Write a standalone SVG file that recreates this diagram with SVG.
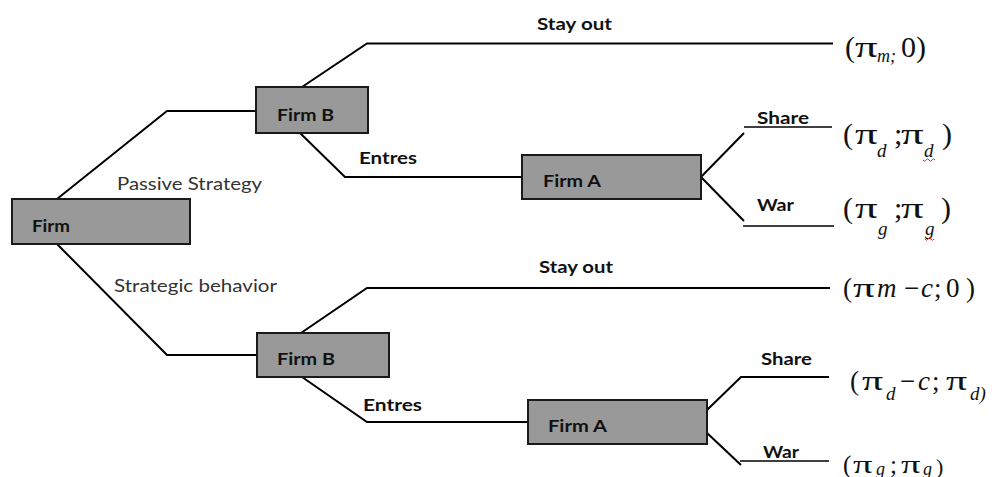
<svg xmlns="http://www.w3.org/2000/svg" width="1002" height="477" viewBox="0 0 1002 477">
<style>
.box{fill:#999999;stroke:#1a1a1a;stroke-width:2}
.ln{fill:none;stroke:#000;stroke-width:2}
.ln2{fill:none;stroke:#000;stroke-width:1.6}
.b{font-family:Lato,"Liberation Sans",sans-serif;font-weight:bold;font-size:17px;fill:#111}
.r{font-family:Lato,"Liberation Sans",sans-serif;font-size:18px;fill:#333}
.m{font-family:"Liberation Serif","Times New Roman",serif;fill:#111}
.i{font-style:italic}
.sq{fill:none;stroke:#e02020;stroke-width:1}
</style>
<rect width="1002" height="477" fill="#fff"/>
<g id="connectors">
<path class="ln" d="M57,199 L167,111 L256,111"/>
<path class="ln" d="M57,244 L167,355 L257,355"/>
<path class="ln" d="M302,87 L367,43.5 L833,43.5"/>
<path class="ln" d="M300,133 L345,177 L522,177"/>
<path class="ln" d="M701,177 L744,133"/>
<path class="ln2" d="M744,127 L832,127"/>
<path class="ln" d="M701,177 L744,221"/>
<path class="ln2" d="M743,226 L834,226"/>
<path class="ln" d="M301,333 L367,288 L830,288"/>
<path class="ln" d="M302,377 L367,422 L528,422"/>
<path class="ln" d="M707,410 L741,377 L829,377"/>
<path class="ln" d="M707,433 L741,465"/>
<path class="ln2" d="M740,461 L829,461"/>
</g>
<g id="firm"><rect class="box" x="12" y="199" width="178" height="45"/><text class="b" x="32" y="232" textLength="38" lengthAdjust="spacingAndGlyphs">Firm</text></g>
<g id="firmB1"><rect class="box" x="256" y="87" width="112" height="46"/><text class="b" x="277" y="121" textLength="57" lengthAdjust="spacingAndGlyphs">Firm B</text></g>
<g id="firmB2"><rect class="box" x="257" y="333" width="132" height="44"/><text class="b" x="277" y="365" textLength="58" lengthAdjust="spacingAndGlyphs">Firm B</text></g>
<g id="firmA1"><rect class="box" x="522" y="155" width="179" height="44"/><text class="b" x="543" y="187" textLength="58" lengthAdjust="spacingAndGlyphs">Firm A</text></g>
<g id="firmA2"><rect class="box" x="528" y="400" width="179" height="44"/><text class="b" x="548" y="432" textLength="59" lengthAdjust="spacingAndGlyphs">Firm A</text></g>
<g id="labels">
<text class="r" x="117" y="190" textLength="145" lengthAdjust="spacingAndGlyphs">Passive Strategy</text>
<text class="r" x="114" y="292" textLength="163" lengthAdjust="spacingAndGlyphs">Strategic behavior</text>
<text class="b" x="537" y="30" textLength="75" lengthAdjust="spacingAndGlyphs">Stay out</text>
<text class="b" x="539" y="273" textLength="74" lengthAdjust="spacingAndGlyphs">Stay out</text>
<text class="b" x="359" y="164" textLength="58" lengthAdjust="spacingAndGlyphs">Entres</text>
<text class="b" x="363" y="411" textLength="59" lengthAdjust="spacingAndGlyphs">Entres</text>
<text class="b" x="757" y="124" textLength="52" lengthAdjust="spacingAndGlyphs">Share</text>
<text class="b" x="757" y="211" textLength="37" lengthAdjust="spacingAndGlyphs">War</text>
<text class="b" x="761" y="365" textLength="51" lengthAdjust="spacingAndGlyphs">Share</text>
<text class="b" x="763" y="458" textLength="36" lengthAdjust="spacingAndGlyphs">War</text>
</g>
<g id="payoffs">
<text class="m" font-size="30" y="57"><tspan x="845">(</tspan><tspan x="877" y="62" font-size="18" class="i">m;</tspan><tspan x="901" y="57">0</tspan><tspan x="916">)</tspan></text>
<text class="m" font-size="29" transform="translate(855,57) scale(1.55,1)">π</text>
<text class="m" font-size="30" y="144"><tspan x="843">(</tspan><tspan x="877" y="157" font-size="19" class="i">d</tspan><tspan x="894" y="144">;</tspan><tspan x="924" y="157" font-size="19" class="i">d</tspan><tspan x="942" y="144">)</tspan></text>
<text class="m" font-size="29" transform="translate(855,144) scale(1.55,1)">π</text>
<text class="m" font-size="29" transform="translate(901,144) scale(1.55,1)">π</text>
<text class="m" font-size="30" y="218"><tspan x="843">(</tspan><tspan x="878" y="235" font-size="19" class="i">g</tspan><tspan x="894" y="218">;</tspan><tspan x="925" y="235" font-size="19" class="i">g</tspan><tspan x="941" y="218">)</tspan></text>
<text class="m" font-size="29" transform="translate(855,218) scale(1.55,1)">π</text>
<text class="m" font-size="29" transform="translate(901,218) scale(1.55,1)">π</text>
<text class="m" font-size="27" y="297"><tspan x="843">(</tspan><tspan x="877" class="i">m</tspan><tspan x="904">−</tspan><tspan x="921" class="i">c</tspan><tspan x="934">;</tspan><tspan x="946">0</tspan><tspan x="966">)</tspan></text>
<text class="m" font-size="27" transform="translate(853,297) scale(1.6,1)">π</text>
<text class="m" font-size="27" y="390"><tspan x="850">(</tspan><tspan x="886" y="400" font-size="19" class="i">d</tspan><tspan x="900" y="390">−</tspan><tspan x="918" class="i">c</tspan><tspan x="932">;</tspan><tspan x="970" y="400" font-size="19" class="i">d)</tspan></text>
<text class="m" font-size="27" transform="translate(862,390) scale(1.55,1)">π</text>
<text class="m" font-size="27" transform="translate(946,390) scale(1.55,1)">π</text>
<text class="m" font-size="25" y="473"><tspan x="843">(</tspan><tspan x="876" y="475" font-size="18" class="i">g</tspan><tspan x="890" y="473">;</tspan><tspan x="923" y="475" font-size="18" class="i">g</tspan><tspan x="936" y="474" font-size="22">)</tspan></text>
<text class="m" font-size="25" transform="translate(853,473) scale(1.55,1)">π</text>
<text class="m" font-size="25" transform="translate(901,473) scale(1.55,1)">π</text>
<path class="sq" d="M923,160 q1.5,2.5 3,0 t3,0 t3,0 t3,0"/>
<path class="sq" d="M925,239 q1.5,2.5 3,0 t3,0 t3,0"/>
</g>
</svg>
